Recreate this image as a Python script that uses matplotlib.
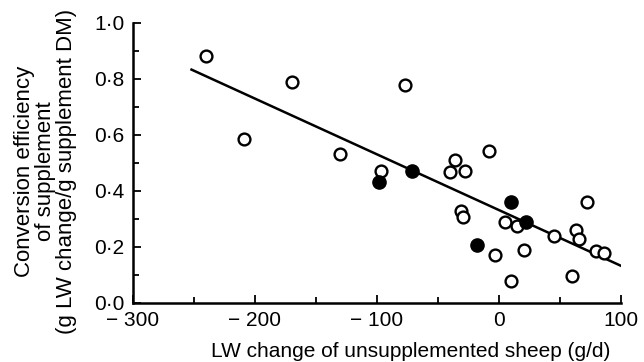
import matplotlib.pyplot as plt
from matplotlib.ticker import MultipleLocator, FixedLocator

plt.rcParams['font.family'] = ['Liberation Sans', 'DejaVu Sans']

# open circles
open_x = [-240, -170, -209, -130, -97, -77, -36, -40, -28, -8, -31, -29,
          5, 15, -3.5, 20.5, 9.6, 45, 72, 63, 66, 80, 86, 60]
open_y = [0.883, 0.790, 0.586, 0.531, 0.471, 0.779, 0.512, 0.468, 0.470, 0.544, 0.329, 0.308,
          0.290, 0.274, 0.171, 0.191, 0.079, 0.240, 0.359, 0.260, 0.228, 0.185, 0.177, 0.098]

# filled circles
fill_x = [-98, -71, 10, 22.5, -18]
fill_y = [0.432, 0.470, 0.359, 0.290, 0.207]

# regression line
fit_x = [-252, 100]
intercept = 0.332
slope = -0.00199

x_ticks = [-300, -200, -100, 0, 100]
x_labels = ['\u2212 300', '\u2212 200', '\u2212 100', '0', '100']
y_ticks = [0.0, 0.2, 0.4, 0.6, 0.8, 1.0]
y_labels = ['0\u00b70', '0\u00b72', '0\u00b74', '0\u00b76', '0\u00b78', '1\u00b70']

fig = plt.figure(figsize=(6.44, 3.62), dpi=100)
ax = fig.add_axes([0.2065, 0.163, 0.7575, 0.7735])

ax.plot(fit_x, [intercept + slope * v for v in fit_x], color='black', lw=1.8, zorder=1)
ax.plot(open_x, open_y, 'o', ms=8.5, mfc='white', mec='black', mew=1.7, zorder=2)
ax.plot(fill_x, fill_y, 'o', ms=9.5, mfc='black', mec='black', zorder=3)

ax.set_xlim(-300, 100)
ax.set_ylim(0, 1.0)
ax.xaxis.set_major_locator(FixedLocator(x_ticks))
ax.set_xticklabels(x_labels)
ax.yaxis.set_major_locator(FixedLocator(y_ticks))
ax.set_yticklabels(y_labels)
ax.xaxis.set_minor_locator(MultipleLocator(50))
ax.yaxis.set_minor_locator(MultipleLocator(0.1))
ax.tick_params(which='both', direction='in', width=1.3, labelsize=15)
ax.tick_params(axis='x', pad=6)
ax.tick_params(axis='y', pad=6)
ax.tick_params(which='major', length=6)
ax.tick_params(which='minor', length=4)

for s in ['top', 'right']:
    ax.spines[s].set_visible(False)
for s in ['left', 'bottom']:
    ax.spines[s].set_linewidth(1.8)

ax.set_xlabel('LW change of unsupplemented sheep (g/d)', fontsize=15)
ax.xaxis.set_label_coords(0.57, -0.14)
ax.set_ylabel('Conversion efficiency\nof supplement\n(g LW change/g supplement DM)',
              fontsize=16, linespacing=1.0)
ax.yaxis.set_label_coords(-0.115, 0.47)

fig.savefig('out.png', dpi=100)
